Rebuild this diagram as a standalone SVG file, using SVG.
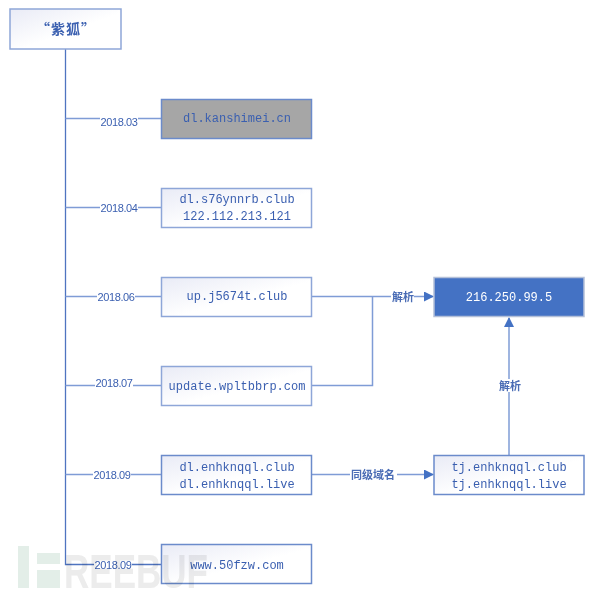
<svg xmlns="http://www.w3.org/2000/svg" width="603" height="595" viewBox="0 0 603 595">
<style>
.n{fill:url(#g);stroke:#8ea6d8;stroke-width:1.5}
.c{fill:none;stroke:#7f9cd6;stroke-width:1.5}
.k{fill:none;stroke:#4f74c0;stroke-width:1.3}
.t{font-family:"Liberation Mono","Noto Sans CJK SC",monospace;font-size:12px;fill:#3a5fb0;text-anchor:middle}
.d{font-family:"Liberation Sans",sans-serif;font-size:11px;fill:#3a5fb0;text-anchor:middle;letter-spacing:-.4px}
.l{font-family:"Noto Sans CJK SC",sans-serif;font-size:11px;font-weight:700;fill:#4a6cb5;text-anchor:middle}
.b{fill:#fff}
</style>
<defs>
<linearGradient id="g" x1="0" y1="0" x2="1" y2="1"><stop offset="0" stop-color="#e9ebf6"/><stop offset=".55" stop-color="#fff"/><stop offset="1" stop-color="#fff"/></linearGradient>
<marker id="a" markerWidth="10" markerHeight="10" refX="9" refY="5" orient="auto" markerUnits="userSpaceOnUse"><path d="M0 0L10 5L0 10Z" fill="#4472c4"/></marker>
</defs>
<g id="connectors">
<path class="k" d="M65.500 49V564.500H161"/>
<path class="c" d="M65.500 118.500H161M65.500 207.500H161M65.500 296.500H161M65.500 385.500H161M65.500 474.500H161"/>
<path class="c" d="M312 296.500H433" marker-end="url(#a)"/>
<path class="c" d="M312 385.500H372.500V296.500"/>
<path class="c" d="M312 474.500H433" marker-end="url(#a)"/>
<path class="c" d="M509 455V318" marker-end="url(#a)"/>
</g>
<g id="root"><rect class="n" x="10" y="9" width="111" height="40"/><text x="66" y="34" font-family="Noto Sans CJK SC,sans-serif" font-size="14" letter-spacing="1" font-weight="700" fill="#3a5fb0" text-anchor="middle">“紫狐”</text></g>
<g id="n1"><rect x="161.500" y="99.500" width="150" height="39" fill="#a6a6a6" stroke="#6b8bcb" stroke-width="1.500"/><text class="t" x="237" y="122">dl.kanshimei.cn</text></g>
<g id="n2"><rect class="n" x="161.500" y="188.500" width="150" height="39"/><text class="t" x="237" y="203">dl.s76ynnrb.club</text><text class="t" x="237" y="220">122.112.213.121</text></g>
<g id="n3"><rect class="n" x="161.500" y="277.500" width="150" height="39"/><text class="t" x="237" y="300">up.j5674t.club</text></g>
<g id="n4"><rect class="n" x="161.500" y="366.500" width="150" height="39"/><text class="t" x="237" y="390">update.wpltbbrp.com</text></g>
<g id="n5"><rect class="n" x="161.500" y="455.500" width="150" height="39" style="stroke:#6b8bcb"/><text class="t" x="237" y="471">dl.enhknqql.club</text><text class="t" x="237" y="488">dl.enhknqql.live</text></g>
<g id="n6"><rect class="n" x="161.500" y="544.500" width="150" height="39" style="stroke:#6b8bcb"/><text class="t" x="237" y="569">www.50fzw.com</text></g>
<g id="ip"><rect x="434" y="277.500" width="150" height="39" fill="#4472c4" stroke="#b4c0d8" stroke-width="1.500"/><text class="t" x="509" y="301" style="fill:#fff">216.250.99.5</text></g>
<g id="tj"><rect class="n" x="434" y="455.500" width="150" height="39" style="stroke:#6b8bcb"/><text class="t" x="509" y="471">tj.enhknqql.club</text><text class="t" x="509" y="488">tj.enhknqql.live</text></g>
<g id="labels">
<rect class="b" x="100" y="112" width="38" height="13"/><text class="d" x="119" y="126">2018.03</text>
<rect class="b" x="100" y="201" width="38" height="13"/><text class="d" x="119" y="212">2018.04</text>
<rect class="b" x="97" y="290" width="38" height="13"/><text class="d" x="116" y="301">2018.06</text>
<rect class="b" x="95" y="379" width="38" height="13"/><text class="d" x="114" y="387">2018.07</text>
<rect class="b" x="93" y="468" width="38" height="13"/><text class="d" x="112" y="479">2018.09</text>
<rect class="b" x="94" y="558" width="38" height="13"/><text class="d" x="113" y="569">2018.09</text>
<rect class="b" x="391" y="291" width="23" height="12"/><text class="l" x="403" y="301">解析</text>
<rect class="b" x="498" y="379" width="23" height="13"/><text class="l" x="510" y="390">解析</text>
<rect class="b" x="350" y="468" width="47" height="13"/><text class="l" x="373" y="479">同级域名</text>
</g>
<g id="watermark" style="mix-blend-mode:multiply">
<g fill="#e3eee8"><rect x="18" y="546" width="11" height="42"/><rect x="37" y="553" width="23" height="11"/><rect x="37" y="570" width="23" height="18"/></g>
<text x="136" y="588" font-family="Liberation Sans,sans-serif" font-size="49" font-weight="700" fill="#ececec" text-anchor="middle" textLength="144" lengthAdjust="spacingAndGlyphs">REEBUF</text>
</g>
</svg>
